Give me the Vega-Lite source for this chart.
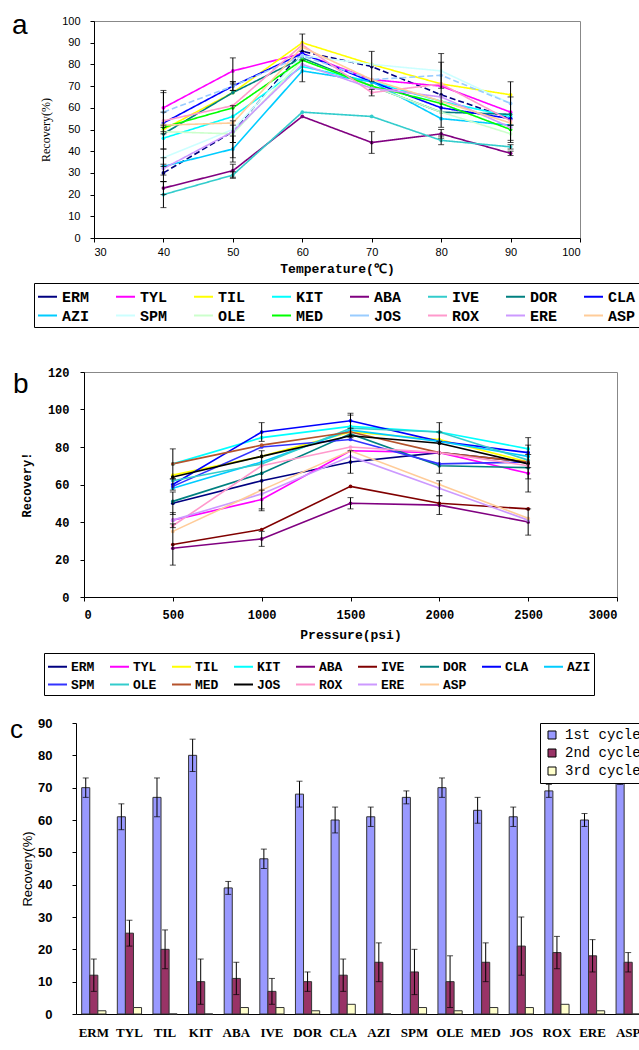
{
  "$schema": "https://vega.github.io/schema/vega-lite/v6.json",
  "background": "white",
  "padding": {"left": 5, "top": 12, "right": 0, "bottom": 0},
  "config": {
    "view": {"stroke": null},
    "font": "Liberation Sans",
    "axis": {"domainColor": "#000", "tickColor": "#000", "labelColor": "#000", "titleColor": "#000", "grid": false, "tickSize": 4}
  },
  "resolve": {"scale": {"color": "independent", "strokeDash": "independent", "x": "independent", "y": "independent"}, "legend": {"color": "independent"}},
  "datasets": {
    "a": [
      {"d":"ERM","t":40,"v":30,"e":4},{"d":"ERM","t":50,"v":49,"e":12},{"d":"ERM","t":60,"v":86},{"d":"ERM","t":70,"v":79,"e":7},{"d":"ERM","t":80,"v":66,"e":15},{"d":"ERM","t":90,"v":55,"e":10},
      {"d":"TYL","t":40,"v":60,"e":8},{"d":"TYL","t":50,"v":77,"e":6},{"d":"TYL","t":60,"v":85},{"d":"TYL","t":70,"v":73},{"d":"TYL","t":80,"v":70},{"d":"TYL","t":90,"v":58},
      {"d":"TIL","t":40,"v":50},{"d":"TIL","t":50,"v":67},{"d":"TIL","t":60,"v":90,"e":4},{"d":"TIL","t":70,"v":80},{"d":"TIL","t":80,"v":71},{"d":"TIL","t":90,"v":66},
      {"d":"KIT","t":40,"v":46,"e":5},{"d":"KIT","t":50,"v":56},{"d":"KIT","t":60,"v":79},{"d":"KIT","t":70,"v":72},{"d":"KIT","t":80,"v":63},{"d":"KIT","t":90,"v":56},
      {"d":"ABA","t":40,"v":23,"e":3},{"d":"ABA","t":50,"v":31,"e":3},{"d":"ABA","t":60,"v":56},{"d":"ABA","t":70,"v":44,"e":5},{"d":"ABA","t":80,"v":48,"e":2},{"d":"ABA","t":90,"v":39,"e":1},
      {"d":"IVE","t":40,"v":20,"e":6},{"d":"IVE","t":50,"v":29,"e":1.5},{"d":"IVE","t":60,"v":58},{"d":"IVE","t":70,"v":56},{"d":"IVE","t":80,"v":45,"e":2},{"d":"IVE","t":90,"v":42,"e":1},
      {"d":"DOR","t":40,"v":48},{"d":"DOR","t":50,"v":67},{"d":"DOR","t":60,"v":83},{"d":"DOR","t":70,"v":70},{"d":"DOR","t":80,"v":58},{"d":"DOR","t":90,"v":57},
      {"d":"CLA","t":40,"v":53,"e":5},{"d":"CLA","t":50,"v":70,"e":2},{"d":"CLA","t":60,"v":85},{"d":"CLA","t":70,"v":72},{"d":"CLA","t":80,"v":60},{"d":"CLA","t":90,"v":55},
      {"d":"AZI","t":40,"v":33,"e":4},{"d":"AZI","t":50,"v":41,"e":6},{"d":"AZI","t":60,"v":77,"e":5},{"d":"AZI","t":70,"v":72},{"d":"AZI","t":80,"v":55},{"d":"AZI","t":90,"v":52},
      {"d":"SPM","t":40,"v":37,"e":4},{"d":"SPM","t":50,"v":50},{"d":"SPM","t":60,"v":84},{"d":"SPM","t":70,"v":80},{"d":"SPM","t":80,"v":77,"e":8},{"d":"SPM","t":90,"v":62,"e":10},
      {"d":"OLE","t":40,"v":49},{"d":"OLE","t":50,"v":48,"e":4},{"d":"OLE","t":60,"v":82},{"d":"OLE","t":70,"v":70},{"d":"OLE","t":80,"v":58},{"d":"OLE","t":90,"v":48,"e":4},
      {"d":"MED","t":40,"v":51},{"d":"MED","t":50,"v":60},{"d":"MED","t":60,"v":82},{"d":"MED","t":70,"v":70},{"d":"MED","t":80,"v":62},{"d":"MED","t":90,"v":50},
      {"d":"JOS","t":40,"v":58,"e":9},{"d":"JOS","t":50,"v":70,"e":2},{"d":"JOS","t":60,"v":84},{"d":"JOS","t":70,"v":73},{"d":"JOS","t":80,"v":75},{"d":"JOS","t":90,"v":62},
      {"d":"ROX","t":40,"v":54},{"d":"ROX","t":50,"v":61},{"d":"ROX","t":60,"v":89},{"d":"ROX","t":70,"v":67,"e":1.5},{"d":"ROX","t":80,"v":71},{"d":"ROX","t":90,"v":54},
      {"d":"ERE","t":40,"v":32},{"d":"ERE","t":50,"v":49,"e":5},{"d":"ERE","t":60,"v":80},{"d":"ERE","t":70,"v":69},{"d":"ERE","t":80,"v":65},{"d":"ERE","t":90,"v":51},
      {"d":"ASP","t":40,"v":52},{"d":"ASP","t":50,"v":53},{"d":"ASP","t":60,"v":88},{"d":"ASP","t":70,"v":73},{"d":"ASP","t":80,"v":63},{"d":"ASP","t":90,"v":53}
    ],
    "b": [
      {"d":"ERM","p":500,"v":50,"e":6},{"d":"ERM","p":1000,"v":62,"e":16},{"d":"ERM","p":1500,"v":72,"e":6},{"d":"ERM","p":2000,"v":77,"e":11},{"d":"ERM","p":2500,"v":72,"e":9},
      {"d":"TYL","p":500,"v":41},{"d":"TYL","p":1000,"v":52,"e":5},{"d":"TYL","p":1500,"v":78},{"d":"TYL","p":2000,"v":77},{"d":"TYL","p":2500,"v":66,"e":10},
      {"d":"TIL","p":500,"v":65},{"d":"TIL","p":1000,"v":75},{"d":"TIL","p":1500,"v":88},{"d":"TIL","p":2000,"v":84},{"d":"TIL","p":2500,"v":72},
      {"d":"KIT","p":500,"v":71},{"d":"KIT","p":1000,"v":85},{"d":"KIT","p":1500,"v":91,"e":6},{"d":"KIT","p":2000,"v":88,"e":5},{"d":"KIT","p":2500,"v":79},
      {"d":"ABA","p":500,"v":26},{"d":"ABA","p":1000,"v":31,"e":4},{"d":"ABA","p":1500,"v":50,"e":3},{"d":"ABA","p":2000,"v":49,"e":5},{"d":"ABA","p":2500,"v":40,"e":7},
      {"d":"IVE","p":500,"v":28,"e":11},{"d":"IVE","p":1000,"v":36},{"d":"IVE","p":1500,"v":59},{"d":"IVE","p":2000,"v":50},{"d":"IVE","p":2500,"v":47},
      {"d":"DOR","p":500,"v":51},{"d":"DOR","p":1000,"v":66},{"d":"DOR","p":1500,"v":87},{"d":"DOR","p":2000,"v":70},{"d":"DOR","p":2500,"v":69},
      {"d":"CLA","p":500,"v":60,"e":3},{"d":"CLA","p":1000,"v":88,"e":5},{"d":"CLA","p":1500,"v":94,"e":4},{"d":"CLA","p":2000,"v":83},{"d":"CLA","p":2500,"v":77,"e":8},
      {"d":"AZI","p":500,"v":58},{"d":"AZI","p":1000,"v":72},{"d":"AZI","p":1500,"v":89},{"d":"AZI","p":2000,"v":83},{"d":"AZI","p":2500,"v":75},
      {"d":"SPM","p":500,"v":59},{"d":"SPM","p":1000,"v":80},{"d":"SPM","p":1500,"v":84},{"d":"SPM","p":2000,"v":71},{"d":"SPM","p":2500,"v":72},
      {"d":"OLE","p":500,"v":62},{"d":"OLE","p":1000,"v":71},{"d":"OLE","p":1500,"v":90},{"d":"OLE","p":2000,"v":88},{"d":"OLE","p":2500,"v":73},
      {"d":"MED","p":500,"v":71,"e":8},{"d":"MED","p":1000,"v":81},{"d":"MED","p":1500,"v":88},{"d":"MED","p":2000,"v":77},{"d":"MED","p":2500,"v":72},
      {"d":"JOS","p":500,"v":64},{"d":"JOS","p":1000,"v":75},{"d":"JOS","p":1500,"v":86},{"d":"JOS","p":2000,"v":82},{"d":"JOS","p":2500,"v":71},
      {"d":"ROX","p":500,"v":38},{"d":"ROX","p":1000,"v":70},{"d":"ROX","p":1500,"v":80},{"d":"ROX","p":2000,"v":77},{"d":"ROX","p":2500,"v":70},
      {"d":"ERE","p":500,"v":41,"e":4},{"d":"ERE","p":1000,"v":55},{"d":"ERE","p":1500,"v":75},{"d":"ERE","p":2000,"v":58,"e":4},{"d":"ERE","p":2500,"v":41},
      {"d":"ASP","p":500,"v":35},{"d":"ASP","p":1000,"v":57},{"d":"ASP","p":1500,"v":78},{"d":"ASP","p":2000,"v":60},{"d":"ASP","p":2500,"v":42}
    ],
    "c": [
      {"d":"ERM","c":"1st cycle","v":70,"lo":67,"hi":73},{"d":"ERM","c":"2nd cycle","v":12,"lo":7,"hi":17},{"d":"ERM","c":"3rd cycle","v":1},
      {"d":"TYL","c":"1st cycle","v":61,"lo":57,"hi":65},{"d":"TYL","c":"2nd cycle","v":25,"lo":21,"hi":29},{"d":"TYL","c":"3rd cycle","v":2},
      {"d":"TIL","c":"1st cycle","v":67,"lo":61,"hi":73},{"d":"TIL","c":"2nd cycle","v":20,"lo":14,"hi":26},{"d":"TIL","c":"3rd cycle","v":0},
      {"d":"KIT","c":"1st cycle","v":80,"lo":75,"hi":85},{"d":"KIT","c":"2nd cycle","v":10,"lo":3,"hi":17},{"d":"KIT","c":"3rd cycle","v":0},
      {"d":"ABA","c":"1st cycle","v":39,"lo":37,"hi":41},{"d":"ABA","c":"2nd cycle","v":11,"lo":6,"hi":16},{"d":"ABA","c":"3rd cycle","v":2},
      {"d":"IVE","c":"1st cycle","v":48,"lo":45,"hi":51},{"d":"IVE","c":"2nd cycle","v":7,"lo":3,"hi":11},{"d":"IVE","c":"3rd cycle","v":2},
      {"d":"DOR","c":"1st cycle","v":68,"lo":64,"hi":72},{"d":"DOR","c":"2nd cycle","v":10,"lo":7,"hi":13},{"d":"DOR","c":"3rd cycle","v":1},
      {"d":"CLA","c":"1st cycle","v":60,"lo":56,"hi":64},{"d":"CLA","c":"2nd cycle","v":12,"lo":7,"hi":17},{"d":"CLA","c":"3rd cycle","v":3},
      {"d":"AZI","c":"1st cycle","v":61,"lo":58,"hi":64},{"d":"AZI","c":"2nd cycle","v":16,"lo":10,"hi":22},{"d":"AZI","c":"3rd cycle","v":0},
      {"d":"SPM","c":"1st cycle","v":67,"lo":65,"hi":69},{"d":"SPM","c":"2nd cycle","v":13,"lo":6,"hi":20},{"d":"SPM","c":"3rd cycle","v":2},
      {"d":"OLE","c":"1st cycle","v":70,"lo":67,"hi":73},{"d":"OLE","c":"2nd cycle","v":10,"lo":2,"hi":18},{"d":"OLE","c":"3rd cycle","v":1},
      {"d":"MED","c":"1st cycle","v":63,"lo":59,"hi":67},{"d":"MED","c":"2nd cycle","v":16,"lo":10,"hi":22},{"d":"MED","c":"3rd cycle","v":2},
      {"d":"JOS","c":"1st cycle","v":61,"lo":58,"hi":64},{"d":"JOS","c":"2nd cycle","v":21,"lo":12,"hi":30},{"d":"JOS","c":"3rd cycle","v":2},
      {"d":"ROX","c":"1st cycle","v":69,"lo":67,"hi":71},{"d":"ROX","c":"2nd cycle","v":19,"lo":14,"hi":24},{"d":"ROX","c":"3rd cycle","v":3},
      {"d":"ERE","c":"1st cycle","v":60,"lo":58,"hi":62},{"d":"ERE","c":"2nd cycle","v":18,"lo":13,"hi":23},{"d":"ERE","c":"3rd cycle","v":1},
      {"d":"ASP","c":"1st cycle","v":72,"lo":71,"hi":73},{"d":"ASP","c":"2nd cycle","v":16,"lo":13,"hi":19},{"d":"ASP","c":"3rd cycle","v":0}
    ]
  },
  "spacing": 21,
  "vconcat": [
    {
      "spacing": 37,
      "resolve": {"scale": {"color": "independent", "strokeDash": "independent", "x": "independent", "y": "independent"}, "legend": {"color": "independent"}},
      "vconcat": [
        {
          "spacing": 5,
          "resolve": {"scale": {"color": "independent", "x": "independent", "y": "independent"}},
          "hconcat": [
            {
              "width": 14, "height": 26,
              "data": {"values": [{"letter": "a"}]},
              "mark": {"type": "text", "align": "left", "baseline": "alphabetic", "fontSize": 28, "font": "Liberation Sans", "color": "#000"},
              "encoding": {"text": {"field": "letter"}}
            },
            {
              "width": 486,
              "height": 217,
              "view": {"stroke": "#888"},
              "data": {"name": "a"},
              "encoding": {
                "x": {"field": "t", "type": "quantitative", "scale": {"domain": [30, 100], "nice": false},
                  "axis": {"values": [30, 40, 50, 60, 70, 80, 90, 100], "title": "Temperature(℃)", "titleFont": "Liberation Mono", "titleFontSize": 13, "titleFontWeight": "bold", "labelFontSize": 11, "labelFont": "Liberation Sans", "labelPadding": 4, "titlePadding": 5}},
                "y": {"field": "v", "type": "quantitative", "scale": {"domain": [0, 100], "nice": false},
                  "axis": {"values": [0, 10, 20, 30, 40, 50, 60, 70, 80, 90, 100], "title": "Recovery(%)", "titleFont": "Liberation Serif", "titleFontSize": 12, "titleFontWeight": "normal", "labelFontSize": 11, "labelPadding": 10, "titlePadding": 9}}
              },
              "layer": [
                {
                  "mark": {"type": "line", "strokeWidth": 1.6, "point": {"filled": true, "size": 14}},
                  "encoding": {
                    "color": {"field": "d", "type": "nominal",
                      "scale": {"domain": ["ERM","TYL","TIL","KIT","ABA","IVE","DOR","CLA","AZI","SPM","OLE","MED","JOS","ROX","ERE","ASP"],
                        "range": ["#000080","#ff00ff","#ffff00","#00ffff","#800080","#33cccc","#008080","#0000ff","#00ccff","#ccffff","#ccffcc","#00ff00","#99ccff","#ff99cc","#cc99ff","#ffcc99"]},
                      "legend": {"orient": "none", "legendX": -60, "legendY": 262, "direction": "horizontal", "columns": 8, "title": null, "strokeColor": "#000", "padding": 3, "symbolType": "stroke", "symbolSize": 361, "symbolStrokeWidth": 2, "labelFont": "Liberation Mono", "labelFontSize": 15, "labelFontWeight": "bold", "labelColor": "#000", "labelOffset": 4, "columnPadding": 22, "rowPadding": -5, "gridAlign": "all"}},
                    "strokeDash": {"field": "d", "type": "nominal",
                      "scale": {"domain": ["ERM","TYL","TIL","KIT","ABA","IVE","DOR","CLA","AZI","SPM","OLE","MED","JOS","ROX","ERE","ASP"],
                        "range": [[6,3],[1,0],[1,0],[1,0],[1,0],[1,0],[1,0],[1,0],[1,0],[1,0],[1,0],[1,0],[6,3],[1,0],[1,0],[1,0]]},
                      "legend": null}
                  }
                },
                {
                  "transform": [{"filter": "datum.e > 0"}],
                  "mark": {"type": "errorbar", "ticks": {"size": 6}, "color": "#000"},
                  "encoding": {"yError": {"field": "e"}}
                }
              ]
            }
          ]
        },
        {
          "spacing": -10,
          "resolve": {"scale": {"color": "independent", "x": "independent", "y": "independent"}},
          "hconcat": [
            {
              "width": 16, "height": 42,
              "data": {"values": [{"letter": "b"}]},
              "mark": {"type": "text", "align": "left", "baseline": "alphabetic", "fontSize": 28, "font": "Liberation Sans", "color": "#000"},
              "encoding": {"text": {"field": "letter"}}
            },
            {
              "width": 533,
              "height": 225,
              "view": {"stroke": "#888"},
              "data": {"name": "b"},
              "encoding": {
                "x": {"field": "p", "type": "quantitative", "scale": {"domain": [0, 3000], "nice": false},
                  "axis": {"values": [0, 500, 1000, 1500, 2000, 2500, 3000], "format": "d", "title": "Pressure(psi)", "titleFont": "Liberation Mono", "titleFontSize": 13, "titleFontWeight": "bold", "labelFont": "Liberation Mono", "labelFontWeight": "bold", "labelFontSize": 12, "labelPadding": 8, "titlePadding": 8}},
                "y": {"field": "v", "type": "quantitative", "scale": {"domain": [0, 120], "nice": false},
                  "axis": {"values": [0, 20, 40, 60, 80, 100, 120], "title": "Recovery!", "titleFont": "Liberation Mono", "titleFontSize": 12, "titleFontWeight": "bold", "labelFont": "Liberation Mono", "labelFontWeight": "bold", "labelFontSize": 12, "labelPadding": 11, "titlePadding": 14}}
              },
              "layer": [
                {
                  "mark": {"type": "line", "strokeWidth": 1.6, "point": {"filled": true, "size": 14}},
                  "encoding": {
                    "color": {"field": "d", "type": "nominal",
                      "scale": {"domain": ["ERM","TYL","TIL","KIT","ABA","IVE","DOR","CLA","AZI","SPM","OLE","MED","JOS","ROX","ERE","ASP"],
                        "range": ["#000080","#ff00ff","#ffff00","#00ffff","#800080","#800000","#008080","#0000ff","#00ccff","#3333ff","#33cccc","#b5532c","#000000","#ff99cc","#cc99ff","#ffcc99"]},
                      "legend": {"orient": "none", "legendX": -40, "legendY": 281, "direction": "horizontal", "columns": 9, "title": null, "strokeColor": "#000", "padding": 3, "symbolType": "stroke", "symbolSize": 361, "symbolStrokeWidth": 2, "labelFont": "Liberation Mono", "labelFontSize": 13, "labelFontWeight": "bold", "labelColor": "#000", "labelOffset": 3, "columnPadding": 11, "rowPadding": -5, "gridAlign": "all"}}
                  }
                },
                {
                  "transform": [{"filter": "datum.e > 0"}],
                  "mark": {"type": "errorbar", "ticks": {"size": 6}, "color": "#000"},
                  "encoding": {"yError": {"field": "e"}}
                }
              ]
            }
          ]
        }
      ]
    },
    {
      "spacing": -2,
      "resolve": {"scale": {"color": "independent", "x": "independent", "y": "independent"}},
      "hconcat": [
        {
          "width": 10, "height": 30,
          "data": {"values": [{"letter": "c"}]},
          "mark": {"type": "text", "align": "left", "baseline": "alphabetic", "fontSize": 26, "font": "Liberation Sans", "color": "#000"},
          "encoding": {"text": {"field": "letter"}}
        },
        {
          "width": 570,
          "height": 291,
          "data": {"name": "c"},
          "encoding": {
            "x": {"field": "d", "type": "nominal", "sort": ["ERM","TYL","TIL","KIT","ABA","IVE","DOR","CLA","AZI","SPM","OLE","MED","JOS","ROX","ERE","ASP"],
              "scale": {"paddingInner": 0.32, "paddingOuter": 0.16},
              "axis": {"title": null, "labelAngle": 0, "labelFont": "Liberation Serif", "labelFontWeight": "bold", "labelFontSize": 13, "ticks": false, "labelPadding": 12}},
            "xOffset": {"field": "c", "type": "nominal", "sort": ["1st cycle", "2nd cycle", "3rd cycle"], "scale": {"paddingInner": 0, "paddingOuter": 0}}
          },
          "layer": [
            {
              "mark": {"type": "bar", "stroke": "#333", "strokeWidth": 1},
              "encoding": {
                "y": {"field": "v", "type": "quantitative", "scale": {"domain": [0, 90], "nice": false},
                  "axis": {"values": [0, 10, 20, 30, 40, 50, 60, 70, 80, 90], "title": "Recovery(%)", "titleFont": "Liberation Sans", "titleFontSize": 13, "titleFontWeight": "normal", "labelFont": "Liberation Sans", "labelFontWeight": "bold", "labelFontSize": 13, "labelPadding": 20, "titlePadding": 3}},
                "color": {"field": "c", "type": "nominal",
                  "scale": {"domain": ["1st cycle", "2nd cycle", "3rd cycle"], "range": ["#9999ff", "#993366", "#ffffcc"]},
                  "legend": {"orient": "top-right", "offset": 0, "title": null, "strokeColor": "#000", "fillColor": "white", "padding": 5, "symbolType": "square", "symbolSize": 64, "symbolStrokeColor": "#000", "symbolStrokeWidth": 1, "labelFont": "Liberation Mono", "labelFontSize": 14, "labelColor": "#000", "labelOffset": 6, "rowPadding": 4}}
              }
            },
            {
              "transform": [{"filter": "isValid(datum.lo)"}],
              "mark": {"type": "rule", "color": "#000", "strokeWidth": 1},
              "encoding": {
                "y": {"field": "lo", "type": "quantitative", "axis": {"values": [0, 10, 20, 30, 40, 50, 60, 70, 80, 90], "title": "Recovery(%)", "titleFont": "Liberation Sans", "titleFontSize": 13, "titleFontWeight": "normal", "labelFont": "Liberation Sans", "labelFontWeight": "bold", "labelFontSize": 13, "labelPadding": 20, "titlePadding": 3}},
                "y2": {"field": "hi"}}
            },
            {
              "transform": [{"filter": "isValid(datum.lo)"}],
              "mark": {"type": "tick", "color": "#000", "size": 6, "thickness": 1},
              "encoding": {"y": {"field": "lo", "type": "quantitative", "axis": {"values": [0, 10, 20, 30, 40, 50, 60, 70, 80, 90], "title": "Recovery(%)", "titleFont": "Liberation Sans", "titleFontSize": 13, "titleFontWeight": "normal", "labelFont": "Liberation Sans", "labelFontWeight": "bold", "labelFontSize": 13, "labelPadding": 20, "titlePadding": 3}}}
            },
            {
              "transform": [{"filter": "isValid(datum.hi)"}],
              "mark": {"type": "tick", "color": "#000", "size": 6, "thickness": 1},
              "encoding": {"y": {"field": "hi", "type": "quantitative", "axis": {"values": [0, 10, 20, 30, 40, 50, 60, 70, 80, 90], "title": "Recovery(%)", "titleFont": "Liberation Sans", "titleFontSize": 13, "titleFontWeight": "normal", "labelFont": "Liberation Sans", "labelFontWeight": "bold", "labelFontSize": 13, "labelPadding": 20, "titlePadding": 3}}}
            }
          ]
        }
      ]
    }
  ]
}
